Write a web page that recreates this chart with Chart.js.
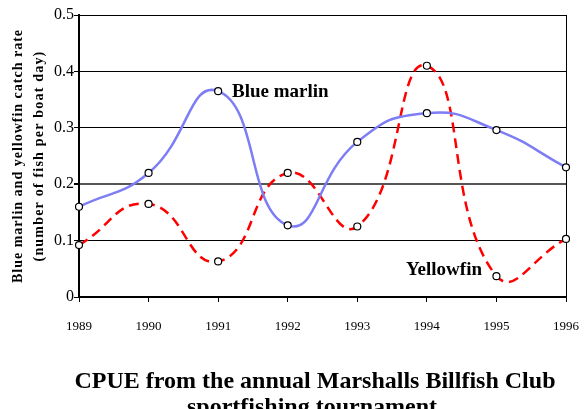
<!DOCTYPE html>
<html>
<head>
<meta charset="utf-8">
<script src="https://cdn.jsdelivr.net/npm/chart.js@4"></script>
<style>
  html, body { margin: 0; padding: 0; background: #fff; overflow: hidden; }
  #wrap { width: 584px; height: 425px; }
</style>
</head>
<body>
<div id="wrap"><canvas id="chart" width="584" height="425"></canvas></div>
<script>
// Catch rate data (fish per boat day)
var years = ['1989', '1990', '1991', '1992', '1993', '1994', '1995', '1996'];
var blueMarlin = [0.160, 0.220, 0.365, 0.127, 0.275, 0.326, 0.296, 0.230];
var yellowfin = [0.092, 0.165, 0.063, 0.220, 0.125, 0.410, 0.037, 0.103];
var yTicks = [0, 0.1, 0.2, 0.3, 0.4, 0.5];
var yTitle = ['Blue marlin and yellowfin catch rate', '(number of fish per boat day)'];
var caption = ['CPUE from the annual Marshalls Billfish Club', 'sportfishing tournament.'];

var serif = '"Liberation Serif", "Times New Roman", serif';

// Series name labels placed inside the plot, in data units
var seriesLabels = [
    { text: 'Blue marlin', x: 2.2, y: 0.363 },
    { text: 'Yellowfin', x: 4.7, y: 0.048 }
];

var labelPlugin = {
    id: 'seriesLabels',
    afterDatasetsDraw: function(chart) {
        var ctx = chart.ctx;
        var xs = chart.scales.x;
        var ys = chart.scales.y;
        ctx.save();
        ctx.font = 'bold 19px ' + serif;
        ctx.fillStyle = '#000';
        ctx.textAlign = 'left';
        ctx.textBaseline = 'middle';
        seriesLabels.forEach(function(l) {
            ctx.fillText(l.text, xs.getPixelForValue(l.x), ys.getPixelForValue(l.y));
        });
        ctx.restore();
    }
};

// Y axis title and caption drawn by hand (loose letter spacing, off-centre caption)
var textPlugin = {
    id: 'axisText',
    afterDraw: function(chart) {
        var ctx = chart.ctx;
        var area = chart.chartArea;
        var cy = (area.top + area.bottom) / 2;
        ctx.save();
        ctx.font = 'bold 14px ' + serif;
        ctx.fillStyle = '#000';
        ctx.textAlign = 'center';
        ctx.textBaseline = 'middle';
        yTitle.forEach(function(line, i) {
            ctx.save();
            ctx.letterSpacing = i === 0 ? '1px' : '1.2px';
            ctx.translate(18 + i * 21, cy);
            ctx.rotate(-Math.PI / 2);
            ctx.fillText(line, 0, 0);
            ctx.restore();
        });

        // caption under the chart
        ctx.font = 'bold 24px ' + serif;
        caption.forEach(function(line, i) {
            ctx.fillText(line, 315, area.bottom + 85 + i * 26);
        });
        ctx.restore();
    }
};

new Chart(document.getElementById('chart'), {
    type: 'line',
    data: {
        labels: years,
        datasets: [{
            label: 'Blue marlin',
            data: blueMarlin,
            borderColor: 'rgb(125, 125, 245)',
            borderWidth: 2.5,
            tension: 0.5,
            pointRadius: 3.5,
            pointBackgroundColor: '#fff',
            pointBorderColor: '#000',
            pointBorderWidth: 1.2
        }, {
            label: 'Yellowfin',
            data: yellowfin,
            borderColor: '#ff0000',
            borderWidth: 2.5,
            borderDash: [10, 6],
            tension: 0.5,
            pointRadius: 3.5,
            pointBackgroundColor: '#fff',
            pointBorderColor: '#000',
            pointBorderWidth: 1.2
        }]
    },
    options: {
        responsive: false,
        animation: false,
        layout: { padding: { top: 15, right: 18, left: 0, bottom: 73 } },
        plugins: {
            legend: { display: false },
            tooltip: { enabled: false },
            title: { display: false }
        },
        scales: {
            x: {
                type: 'category',
                offset: false,
                afterFit: function(scale) {
                    scale.height = 55;
                    scale.paddingLeft = 0;
                    scale.paddingRight = 0;
                },
                border: { display: true, color: '#000', width: 2 },
                grid: {
                    drawOnChartArea: true,
                    color: function(c) { return c.index === years.length - 1 ? '#000' : 'rgba(0,0,0,0)'; },
                    tickColor: '#000',
                    tickLength: 5
                },
                ticks: {
                    color: '#000',
                    padding: 17,
                    maxRotation: 0,
                    font: { family: serif, size: 13 }
                }
            },
            y: {
                min: 0,
                max: 0.5,
                afterFit: function(scale) {
                    scale.width = 79;
                    scale.paddingTop = 0;
                    scale.paddingBottom = 0;
                },
                afterBuildTicks: function(scale) {
                    scale.ticks = yTicks.map(function(v) { return { value: v }; });
                },
                border: { display: true, color: '#000', width: 2 },
                grid: {
                    color: function(c) { return c.tick && c.tick.value === 0.2 ? '#555' : '#000'; },
                    lineWidth: function(c) { return c.tick && c.tick.value === 0.2 ? 2 : 1; },
                    tickColor: '#000',
                    tickLength: 5
                },
                ticks: {
                    color: '#000',
                    padding: 0,
                    font: { family: serif, size: 16 },
                    callback: function(v) { return v === 0 ? '0' : v.toFixed(1); }
                }
            }
        }
    },
    plugins: [labelPlugin, textPlugin]
});
</script>
</body>
</html>
